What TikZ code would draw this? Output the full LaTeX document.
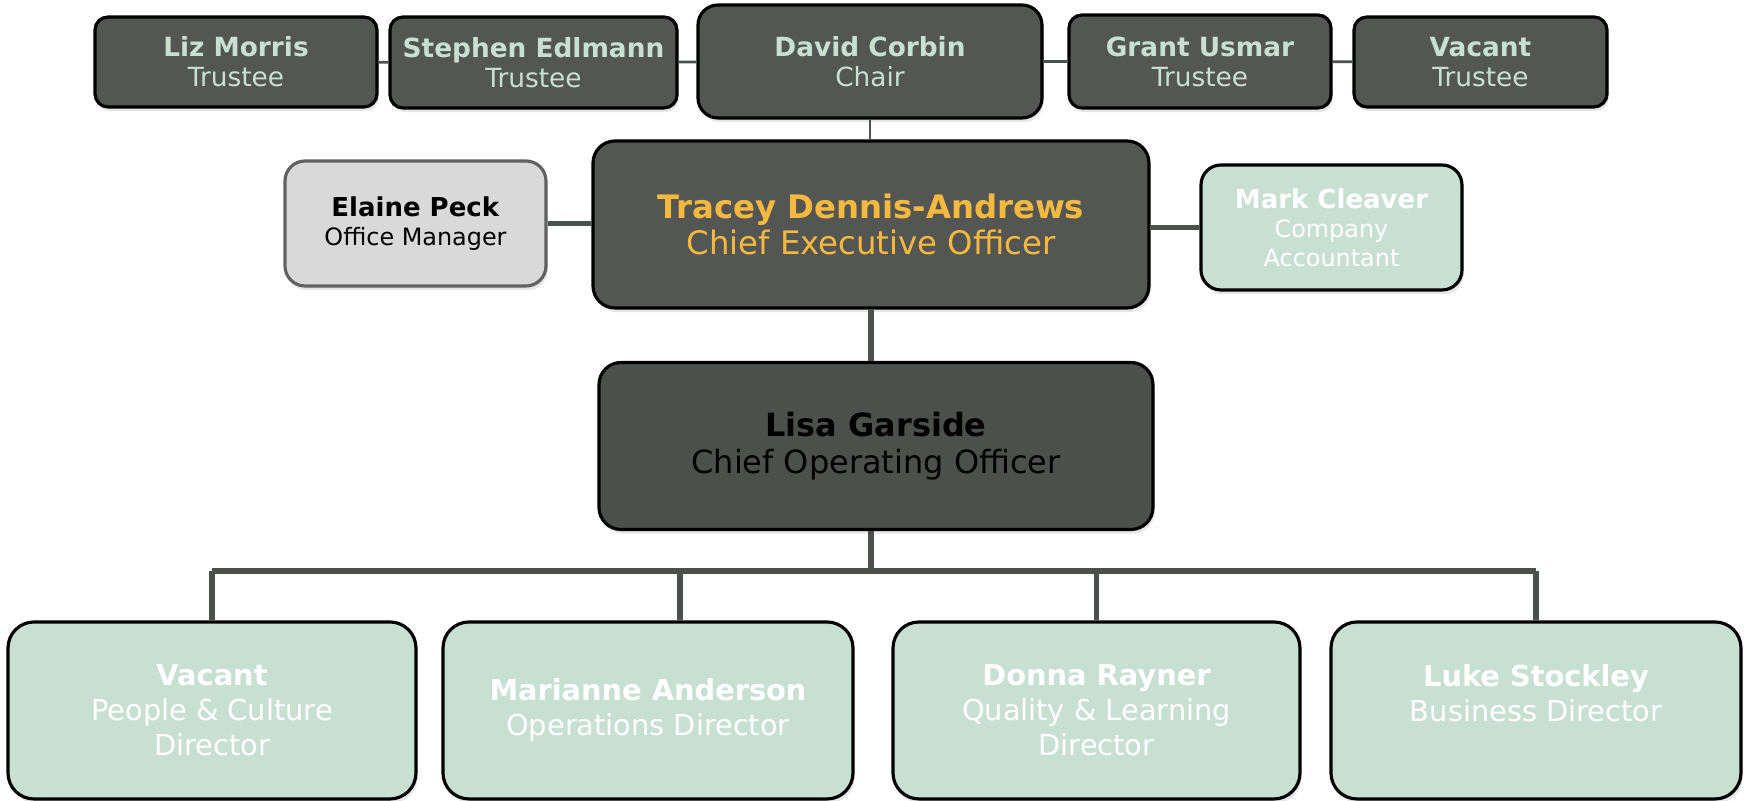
\documentclass[tikz,border=0pt]{standalone}
\usepackage{fontspec}
\setmainfont{DejaVu Sans}
\usetikzlibrary{shadows}

\definecolor{boardgrey}{RGB}{84,86,83}
\definecolor{coogrey}{RGB}{75,80,77}
\definecolor{mint}{RGB}{200,224,210}
\definecolor{amber}{RGB}{246,185,64}
\definecolor{officegrey}{RGB}{217,217,217}
\definecolor{wire}{RGB}{75,80,77}

\begin{document}
\begin{tikzpicture}[
        box/.style={draw=black, line width=0.9pt, rounded corners=0.13cm, inner sep=0pt,
                    align=center, drop shadow={shadow xshift=0.5pt, shadow yshift=-1.2pt, opacity=0.2}},
        trustee/.style={box, fill=boardgrey, text=mint, font=\fontsize{7.5}{8.5}\selectfont},
        exec/.style={box, rounded corners=0.22cm, minimum width=5.56cm, minimum height=1.67cm},
        side/.style={box, rounded corners=0.2cm, minimum width=2.61cm, minimum height=1.25cm,
                     font=\fontsize{6.8}{8.2}\selectfont},
        director/.style={box, rounded corners=0.26cm, fill=mint, text=white, minimum width=4.08cm,
                         minimum height=1.77cm, font=\fontsize{8.2}{10}\selectfont},
        thin link/.style={draw=wire, line width=0.8pt},
        thick link/.style={draw=wire, line width=1.5pt}
    ]
    \useasboundingbox (0,0) rectangle (17.48,8.01);

    % board of trustees
    \node[trustee, minimum width=2.82cm, minimum height=0.90cm] (liz) at (2.36, 7.39) {\textbf{Liz Morris}\\Trustee};
    \node[trustee, minimum width=2.87cm, minimum height=0.91cm] (stephen) at (5.335, 7.385) {\textbf{Stephen Edlmann}\\Trustee};
    \node[trustee, minimum width=3.44cm, minimum height=1.13cm, rounded corners=0.2cm] (david) at (8.70, 7.395) {\textbf{David Corbin}\\Chair};
    \node[trustee, minimum width=2.62cm, minimum height=0.93cm] (grant) at (12.00, 7.395) {\textbf{Grant Usmar}\\Trustee};
    \node[trustee, minimum width=2.53cm, minimum height=0.90cm] (vacant) at (14.805, 7.39) {\textbf{Vacant}\\Trustee};

    % chief executive and side posts
    \node[exec, fill=boardgrey, text=amber, font=\fontsize{9.2}{10.2}\selectfont] (tracey) at (8.71, 5.765)
        {\textbf{Tracey Dennis-Andrews}\\Chief Executive Officer};
    \node[side, fill=officegrey, draw=black!62, text=black] (elaine) at (4.155, 5.775)
        {{\fontsize{7.4}{8.2}\selectfont\textbf{Elaine Peck}}\\Office Manager};
    \node[side, fill=mint, text=white] (mark) at (13.315, 5.735)
        {{\fontsize{7.4}{8.2}\selectfont\textbf{Mark Cleaver}}\\Company\\Accountant};

    % chief operating officer
    \node[exec, fill=coogrey, text=black, minimum width=5.54cm, font=\fontsize{9.1}{10.5}\selectfont] (lisa) at (8.76, 3.55)
        {\textbf{Lisa Garside}\\Chief Operating Officer};

    % directors
    \node[director] (vacdir) at (2.12, 0.905) {\textbf{Vacant}\\People \& Culture\\Director};
    \node[director, minimum width=4.10cm] (marianne) at (6.48, 0.905) {\textbf{Marianne Anderson}\\Operations Director};
    \node[director, minimum width=4.07cm] (donna) at (10.965, 0.905) {\textbf{Donna Rayner}\\Quality \& Learning\\Director};
    \node[director, minimum width=4.10cm] (luke) at (15.36, 0.905) {\textbf{Luke Stockley}\\Business Director\\\mbox{}};

    \coordinate (hub) at (8.71, 2.30);
    \coordinate (marup) at (6.80, 2.30);

    % connectors
    \path[thin link] (liz) -- (stephen);
    \path[thin link] (stephen) -- (david);
    \path[thin link] (david) -- (grant);
    \path[thin link] (grant) -- (vacant);
    \path[thin link] (david.south) -- (david.south |- tracey.north);

    \path[thick link] (elaine.east) -- (elaine.east -| tracey.west);
    \path[thick link] (tracey.east |- mark.west) -- (mark.west);
    \path[thick link] (tracey.south) -- (tracey.south |- lisa.north);
    \path[thick link] (tracey.south |- lisa.south) -- (hub);
    \path[thick link] (vacdir.north |- hub) -- (luke.north |- hub);
    \path[thick link] (vacdir.north |- hub) -- (vacdir.north);
    \path[thick link] (marup) -- (marup |- marianne.north);
    \path[thick link] (donna.north |- hub) -- (donna.north);
    \path[thick link] (luke.north |- hub) -- (luke.north);
\end{tikzpicture}
\end{document}
